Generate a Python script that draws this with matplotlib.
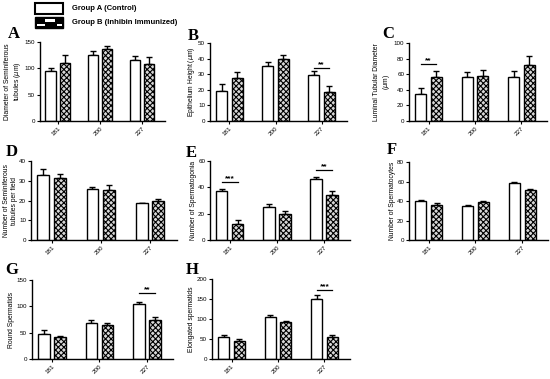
import numpy as np
import matplotlib.pyplot as plt
from matplotlib.patches import Rectangle

plt.rcParams['hatch.linewidth'] = 0.8
plt.rcParams['font.family'] = ['Liberation Sans', 'DejaVu Sans']

days = ["181", "200", "227"]

# panel A: diameter of seminiferous tubules
a_ctrl = [95, 126, 116]
a_ctrl_err = [6, 7, 8]
a_imm = [111, 136, 109]
a_imm_err = [14, 6, 12]

# panel B: epithelium height
b_ctrl = [19.5, 35.5, 29.5]
b_ctrl_err = [4, 2.5, 2.5]
b_imm = [27.5, 39.5, 18.5]
b_imm_err = [4, 2.5, 4]

# panel C: luminal tubular diameter
c_ctrl = [34, 56, 57]
c_ctrl_err = [8, 7, 7]
c_imm = [56, 58, 72]
c_imm_err = [8, 7, 11]

# panel D: seminiferous tubules per field
d_ctrl = [33, 26, 18.5]
d_ctrl_err = [3, 0.6, 0.3]
d_imm = [31.5, 25.5, 20]
d_imm_err = [1.8, 2.5, 0.6]

# panel E: spermatogonia
e_ctrl = [37.5, 25, 46]
e_ctrl_err = [1.2, 2, 2]
e_imm = [12.5, 20, 34.5]
e_imm_err = [2.5, 2, 2.5]

# panel F: spermatocytes
f_ctrl = [40, 34.5, 58]
f_ctrl_err = [1.5, 1, 1]
f_imm = [36, 38.5, 51.5]
f_imm_err = [1.5, 1, 0.6]

# panel G: round spermatids
g_ctrl = [47, 69, 104]
g_ctrl_err = [8, 5, 5]
g_imm = [42, 64, 74]
g_imm_err = [1, 5, 5]

# panel H: elongated spermatids
h_ctrl = [55, 105, 150]
h_ctrl_err = [5, 4, 10]
h_imm = [44, 92, 55]
h_imm_err = [5, 2, 5]

W, H = 550, 379
fig = plt.figure(figsize=(5.5, 3.79), dpi=100)


def px_axes(left, right, top, bottom):
    return fig.add_axes([left / W, 1 - bottom / H, (right - left) / W, (bottom - top) / H])


def panel(box, letter, letter_xy, ctrl, ctrl_err, imm, imm_err, ymax, ystep, ylabel, sig=None):
    ax = px_axes(*box)
    x = np.arange(len(days))
    bw, off = 0.24, 0.17
    ax.bar(x - off, ctrl, bw, color="white", edgecolor="black", linewidth=1.0, zorder=2)
    ax.bar(x + off, imm, bw, color="#d8d8d8", edgecolor="black", hatch="xxxxxx", linewidth=1.0, zorder=2)
    ax.errorbar(x - off, ctrl, yerr=[np.zeros(3), ctrl_err], fmt="none", ecolor="black",
                elinewidth=1.0, capsize=2.2, capthick=1.0, zorder=1)
    ax.errorbar(x + off, imm, yerr=[np.zeros(3), imm_err], fmt="none", ecolor="black",
                elinewidth=1.0, capsize=2.2, capthick=1.0, zorder=1)
    ax.set_xlim(-0.42, 2.55)
    ax.set_ylim(0, ymax)
    ax.set_yticks(np.arange(0, ymax + 0.01, ystep))
    ax.set_xticks(x)
    ax.set_xticklabels(days, rotation=45, ha="right", rotation_mode="anchor")
    ax.tick_params(labelsize=4.5, length=2, width=0.8, pad=1.5)
    for s in ["top", "right"]:
        ax.spines[s].set_visible(False)
    for s in ["left", "bottom"]:
        ax.spines[s].set_linewidth(1.0)
    ax.set_ylabel(ylabel, fontsize=4.9, labelpad=1, linespacing=1.15)
    if sig:
        for idx, yv, stars in sig:
            ax.plot([idx - off, idx + off], [yv, yv], color="black", lw=0.9)
            ax.text(idx, yv, stars, ha="center", va="bottom", fontsize=6, fontweight="bold")
    fig.text(letter_xy[0] / W, 1 - letter_xy[1] / H, letter, family="Liberation Serif",
             fontweight="bold", fontsize=12, ha="center", va="center")
    return ax


panel((40, 165, 42, 121), "A", (14, 34), a_ctrl, a_ctrl_err, a_imm, a_imm_err, 150, 50,
      "Diameter of Seminiferous\ntubules ($\\mu$m)")
panel((210, 347, 43, 121), "B", (193, 36), b_ctrl, b_ctrl_err, b_imm, b_imm_err, 50, 10,
      "Epithelium Height ($\\mu$m)", sig=[(2, 34, "**")])
panel((409, 547, 43, 121), "C", (388, 34), c_ctrl, c_ctrl_err, c_imm, c_imm_err, 100, 20,
      "Luminal Tubular Diameter\n($\\mu$m)", sig=[(0, 73, "**")])
panel((31, 177, 161, 240), "D", (12, 152), d_ctrl, d_ctrl_err, d_imm, d_imm_err, 40, 10,
      "Number of Seminiferous\ntubules per field")
panel((210, 350, 161, 240), "E", (191, 153), e_ctrl, e_ctrl_err, e_imm, e_imm_err, 60, 20,
      "Number of Spermatogonia", sig=[(0, 44, "***"), (2, 53, "**")])
panel((409, 548, 162, 240), "F", (392, 150), f_ctrl, f_ctrl_err, f_imm, f_imm_err, 80, 20,
      "Number of Spermatocytes")
panel((32, 173, 280, 359), "G", (12, 270), g_ctrl, g_ctrl_err, g_imm, g_imm_err, 150, 50,
      "Round Spermatids", sig=[(2, 125, "**")])
panel((212, 350, 279, 359), "H", (192, 270), h_ctrl, h_ctrl_err, h_imm, h_imm_err, 200, 50,
      "Elongated spermatids", sig=[(2, 173, "***")])

# legend at top left
def add_px_rect(x0, y0, x1, y1, **kw):
    fig.patches.append(Rectangle((x0 / W, 1 - y1 / H), (x1 - x0) / W, (y1 - y0) / H,
                                 transform=fig.transFigure, **kw))


add_px_rect(35, 3.5, 63, 13.5, facecolor="white", edgecolor="black", linewidth=1.5)
add_px_rect(35, 17.5, 63, 27.5, facecolor="black", edgecolor="black", linewidth=1.0)
add_px_rect(45, 19.5, 55, 22, facecolor="white", edgecolor="none")
add_px_rect(37, 24, 45, 26, facecolor="white", edgecolor="none")
add_px_rect(56.5, 24, 62, 26, facecolor="white", edgecolor="none")
fig.text(72 / W, 1 - 8.5 / H, "Group A (Control)", fontsize=5.5, fontweight="bold", va="center")
fig.text(72 / W, 1 - 23 / H, "Group B (Inhibin Immunized)", fontsize=5.5, fontweight="bold", va="center")

fig.savefig("out.png", dpi=100)
